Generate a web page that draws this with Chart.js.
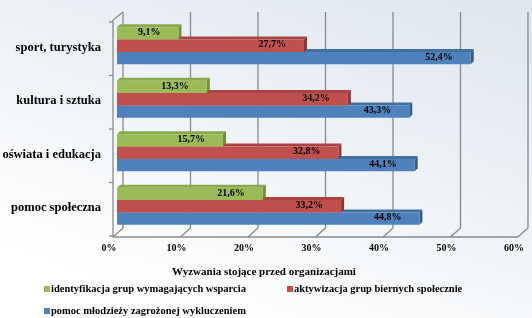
<!DOCTYPE html>
<html><head><meta charset="utf-8">
<script src="https://cdn.jsdelivr.net/npm/chart.js@4"></script>
<style>
html,body{margin:0;padding:0;}
body{width:532px;height:318px;overflow:hidden;position:relative;
background:linear-gradient(200deg,#dfe6ee 0%,#ebf0f5 35%,#f7f9fb 65%,#ffffff 85%);}
#c{position:absolute;left:0;top:0;}
.leg{position:absolute;font:bold 10.5px "Liberation Serif",serif;color:#000;white-space:nowrap;line-height:12px;}
.leg i{position:absolute;left:-7px;top:3px;width:6px;height:6px;}
#ttl{position:absolute;left:0;width:528px;top:264px;text-align:center;font:bold 11px "Liberation Serif",serif;color:#000;line-height:14px;}
</style></head>
<body>
<canvas id="c" width="532" height="318"></canvas>
<div id="ttl"></div>
<div class="leg" style="left:51px;top:283px;"><i style="background:#9bbb59"></i>identyfikacja grup wymagających wsparcia</div>
<div class="leg" style="left:294px;top:283px;"><i style="background:#c0504d"></i>aktywizacja grup biernych społecznie</div>
<div class="leg" style="left:51px;top:305px;"><i style="background:#4f81bd"></i>pomoc młodzieży zagrożonej wykluczeniem</div>
<script>
const categories = ["sport, turystyka", "kultura i sztuka", "oświata i edukacja", "pomoc społeczna"];
const seriesNames = ["identyfikacja grup wymagających wsparcia", "aktywizacja grup biernych społecznie", "pomoc młodzieży zagrożonej wykluczeniem"];
const identyfikacja = [9.1, 13.3, 15.7, 21.6];
const aktywizacja = [27.7, 34.2, 32.8, 33.2];
const pomocMlodziezy = [52.4, 43.3, 44.1, 44.8];
const tickValues = [0, 10, 20, 30, 40, 50, 60];
const axisTitle = "Wyzwania stojące przed organizacjami";

document.getElementById('ttl').textContent = axisTitle;

const fronts = ["#9bbb59", "#c0504d", "#4f81bd"];
const tops = ["#8aa84c", "#a94442", "#44709f"];
const sides = ["#718c3a", "#8e3533", "#355b87"];
const D = 3;

const extrude = {
  id: 'extrude',
  beforeDatasetDraw(chart, args) {
    const ctx = chart.ctx, i = args.index;
    args.meta.data.forEach(b => {
      const h = b.height, x0 = b.base, x1 = b.x, y0 = b.y - h/2, y1 = b.y + h/2;
      ctx.save();
      ctx.fillStyle = tops[i];
      ctx.beginPath();
      ctx.moveTo(x0, y0); ctx.lineTo(x0 + D, y0 - D); ctx.lineTo(x1 + D, y0 - D); ctx.lineTo(x1, y0); ctx.closePath(); ctx.fill();
      ctx.fillStyle = sides[i];
      ctx.beginPath();
      ctx.moveTo(x1, y0); ctx.lineTo(x1 + D, y0 - D); ctx.lineTo(x1 + D, y1 - D); ctx.lineTo(x1, y1); ctx.closePath(); ctx.fill();
      ctx.restore();
    });
  }
};

const grid3d = {
  id: 'grid3d',
  beforeDatasetsDraw(chart) {
    const ctx = chart.ctx, xs = chart.scales.x, a = chart.chartArea;
    ctx.save();
    ctx.strokeStyle = "#8a8a8a";
    ctx.lineWidth = 1.3;
    tickValues.forEach(v => {
      const px = xs.getPixelForValue(v);
      ctx.beginPath();
      ctx.moveTo(px + 6, a.top - 7);
      ctx.lineTo(px + 6, a.bottom - 5);
      ctx.lineTo(px - 4, a.bottom + 4);
      ctx.stroke();
    });
    const x0 = xs.getPixelForValue(0), x6 = xs.getPixelForValue(60);
    ctx.beginPath();
    ctx.moveTo(x0 - 4, a.bottom + 4); ctx.lineTo(x6 - 4, a.bottom + 4); ctx.stroke();
    ctx.beginPath();
    ctx.moveTo(x0 + 6, a.top - 7); ctx.lineTo(x0 - 4, a.top + 1); ctx.lineTo(x0 - 4, a.bottom + 4); ctx.stroke();
    for (let k = 0; k <= categories.length; k++) {
      const y = a.top + (a.bottom - a.top) * k / categories.length + 3;
      ctx.beginPath(); ctx.moveTo(x0 - 8, y); ctx.lineTo(x0 - 4, y); ctx.stroke();
    }
    ctx.restore();
  }
};

const valueLabels = {
  id: 'valueLabels',
  afterDatasetsDraw(chart) {
    const ctx = chart.ctx;
    ctx.save();
    ctx.font = 'bold 10px "Liberation Serif"';
    ctx.fillStyle = '#000';
    ctx.textAlign = 'right';
    ctx.textBaseline = 'middle';
    chart.data.datasets.forEach((ds, i) => {
      chart.getDatasetMeta(i).data.forEach((b, j) => {
        const t = ds.data[j].toFixed(1).replace('.', ',') + '%';
        ctx.fillText(t, b.x - 18, b.y - 1);
      });
    });
    ctx.restore();
  }
};

new Chart(document.getElementById('c'), {
  type: 'bar',
  data: {
    labels: categories,
    datasets: [
      { label: seriesNames[0], data: identyfikacja, backgroundColor: fronts[0] },
      { label: seriesNames[1], data: aktywizacja, backgroundColor: fronts[1] },
      { label: seriesNames[2], data: pomocMlodziezy, backgroundColor: fronts[2] }
    ]
  },
  options: {
    indexAxis: 'y',
    responsive: false,
    animation: false,
    layout: { padding: { top: 19, right: 10, bottom: 39, left: 0 } },
    datasets: { bar: { categoryPercentage: 0.69, barPercentage: 1.0, borderWidth: 0 } },
    plugins: { legend: { display: false }, tooltip: { enabled: false } },
    scales: {
      x: {
        min: 0, max: 60,
        border: { display: false },
        grid: { display: false, drawTicks: false },
        ticks: {
          stepSize: 10, padding: 9, labelOffset: -8, color: '#000',
          font: { family: 'Liberation Serif', size: 10, weight: 'bold' },
          callback: v => v + '%'
        },
        afterFit(s) { s.height = 46; s.paddingLeft = 0; s.paddingRight = 0; }
      },
      y: {
        border: { display: false },
        grid: { display: false, drawTicks: false },
        ticks: {
          padding: 16, labelOffset: 2, color: '#000',
          font: { family: 'Liberation Serif', size: 12.5, weight: 'bold' }
        },
        afterFit(s) { s.width = 117; s.paddingTop = 0; s.paddingBottom = 0; }
      }
    }
  },
  plugins: [grid3d, extrude, valueLabels]
});
</script>
</body></html>
